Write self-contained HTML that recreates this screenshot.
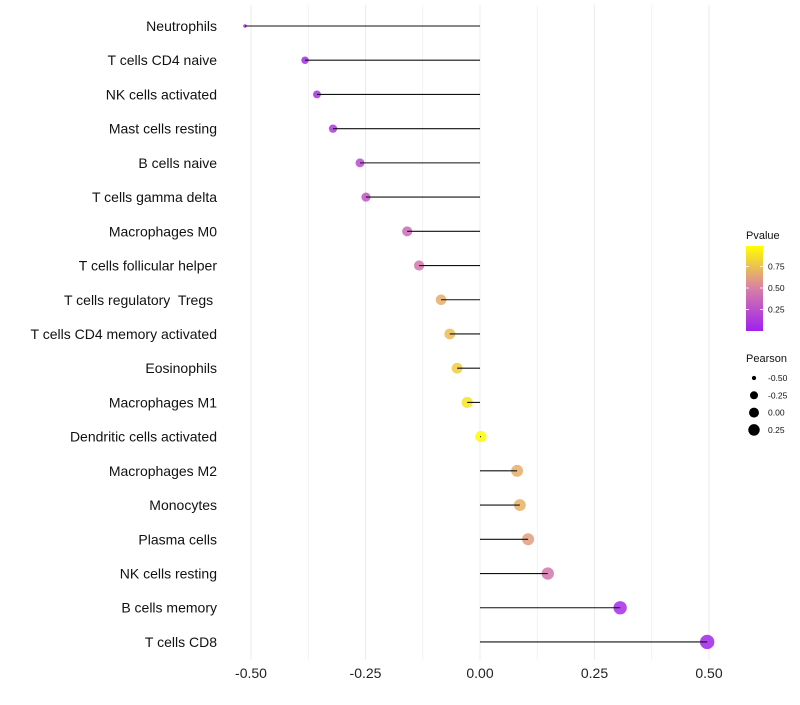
<!DOCTYPE html>
<html><head><meta charset="utf-8"><style>
body{margin:0;background:#fff;font-family:"Liberation Sans",sans-serif}
text{white-space:pre}
</style></head><body>
<svg id="c" width="800" height="700" xmlns="http://www.w3.org/2000/svg"></svg>
<script>
const categories=["Neutrophils","T cells CD4 naive","NK cells activated","Mast cells resting","B cells naive","T cells gamma delta","Macrophages M0","T cells follicular helper","T cells regulatory  Tregs ","T cells CD4 memory activated","Eosinophils","Macrophages M1","Dendritic cells activated","Macrophages M2","Monocytes","Plasma cells","NK cells resting","B cells memory","T cells CD8"];
const pearson=[-0.513,-0.382,-0.356,-0.321,-0.262,-0.249,-0.159,-0.133,-0.085,-0.066,-0.050,-0.028,0.002,0.081,0.087,0.105,0.148,0.306,0.496];
const pvalue=[0.03,0.05,0.08,0.12,0.22,0.28,0.38,0.45,0.68,0.74,0.8,0.9,0.99,0.68,0.7,0.62,0.45,0.05,0.02];
const xTicks=[-0.5,-0.25,0,0.25,0.5];
const xTickLabels=["-0.50","-0.25","0.00","0.25","0.50"];
const legendP=[0.25,0.5,0.75];
const legendR=[-0.5,-0.25,0,0.25];
const NS="http://www.w3.org/2000/svg",svg=document.getElementById('c');
const x=v=>480+v*458, y=i=>26+i*34.22;
const pmin=Math.min(...pearson),pmax=Math.max(...pearson);
const rad=v=>{const t=Math.max(0,Math.min(1,(v-pmin)/(pmax-pmin)));return 1.8+5.4*Math.sqrt(t)};
function col(p){const s=[[160,32,240],[215,127,166],[255,255,0]];let a,b,t;if(p<0.5){a=s[0];b=s[1];t=p/0.5}else{a=s[1];b=s[2];t=(p-0.5)/0.5}
return `rgb(${a.map((c,k)=>Math.round(c+(b[k]-c)*t)).join(',')})`}
function el(tag,at,txt){const e=document.createElementNS(NS,tag);for(const k in at)e.setAttribute(k,at[k]);if(txt!=null)e.textContent=txt;svg.appendChild(e);return e}
for(let v=-0.5;v<=0.5001;v+=0.125){const g=el('line',{x1:x(v),x2:x(v),y1:5,y2:660,stroke:'#ebebeb','stroke-width':Math.abs((v*4)%1)<1e-6?1:0.6});
}
xTicks.forEach((v,i)=>{const t=el('text',{x:x(v),y:678,'text-anchor':'middle','font-size':14,fill:'#222'},xTickLabels[i]);
});
categories.forEach((c,i)=>{
const l=el('text',{x:217,y:y(i)+5,'text-anchor':'end','font-size':14,fill:'#111'},c);

const d=el('circle',{cx:x(pearson[i]),cy:y(i),r:rad(pearson[i]),fill:col(pvalue[i]),'fill-opacity':0.85});

const s=el('line',{x1:x(0),x2:x(pearson[i]),y1:y(i),y2:y(i),stroke:'#111','stroke-width':1.1});

});
const lt=el('text',{x:746,y:239,'font-size':11,fill:'#111'},'Pvalue');
const defs=el('defs',{});const gr=document.createElementNS(NS,'linearGradient');gr.setAttribute('id','g');gr.setAttribute('x1',0);gr.setAttribute('y1',1);gr.setAttribute('x2',0);gr.setAttribute('y2',0);defs.appendChild(gr);
for(let k=0;k<=10;k++){const st=document.createElementNS(NS,'stop');st.setAttribute('offset',k/10);st.setAttribute('stop-color',col(k/10));gr.appendChild(st);}
const bar=el('rect',{x:746,y:246,width:17,height:85,fill:'url(#g)'});
legendP.forEach(p=>{const yy=331-p*86;
el('line',{x1:746,x2:749,y1:yy,y2:yy,stroke:'#fff','stroke-width':0.8});el('line',{x1:760,x2:763,y1:yy,y2:yy,stroke:'#fff','stroke-width':0.8});
const t=el('text',{x:768,y:yy+3,'font-size':8.5,fill:'#111'},p.toFixed(2));});
const pt=el('text',{x:746,y:362,'font-size':11,fill:'#111'},'Pearson');
legendR.forEach((v,i)=>{const yy=378+i*17.3;
const c=el('circle',{cx:754,cy:yy,r:Math.max(2,rad(v)*0.88),fill:'#000'});
const t=el('text',{x:768,y:yy+3,'font-size':8.5,fill:'#111'},v.toFixed(2));});
</script>
</body></html>
